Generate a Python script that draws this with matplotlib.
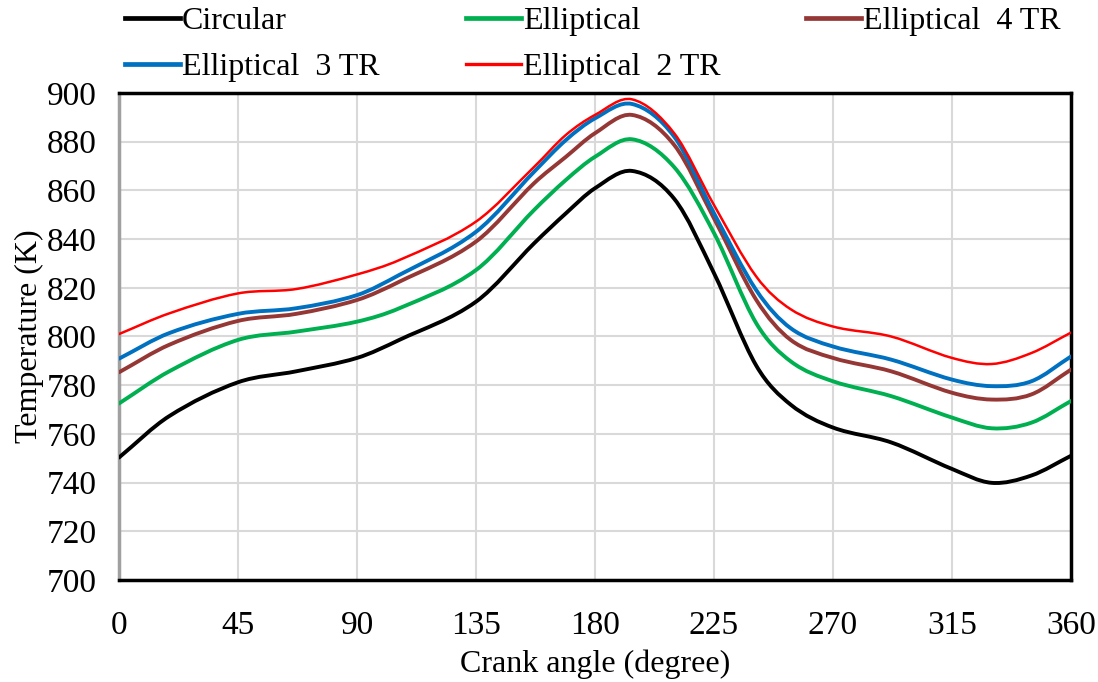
import numpy as np
import matplotlib
matplotlib.use("Agg")
import matplotlib.pyplot as plt
from matplotlib.path import Path
from matplotlib.patches import PathPatch
from matplotlib.lines import Line2D

plt.rcParams['font.family'] = ['Liberation Serif', 'DejaVu Serif']

# crank angle (degree)
angle = [0, 19, 45, 67, 90, 106, 135, 157, 169, 180, 194, 210, 225, 241, 254, 270, 292, 315, 330, 345, 360]

# temperature (K)
circular = [750.3, 767.3, 781.2, 785.7, 791.2, 798.6, 814.3, 838.3, 850.6, 860.9, 868, 856.5, 826, 788, 772, 762.6, 756.5, 745.6, 739.9, 742.9, 751]
elliptical = [772.5, 785.7, 798.6, 802, 806.1, 811.6, 827.3, 852, 864.3, 873.8, 881, 869.5, 842.5, 805.4, 789.8, 781.6, 775.5, 766.7, 762.3, 764.6, 773.5]
ellip_4tr = [785.3, 796.6, 806.4, 809.3, 815, 822.5, 839, 863, 873.8, 883.5, 891, 878.6, 848.5, 815, 798.6, 791.2, 785.7, 776.9, 774.1, 776.2, 786.4]
ellip_3tr = [790.9, 801.4, 809.3, 811.6, 817, 825.3, 843, 867.7, 880.7, 889.6, 895.5, 882, 850.6, 819, 803.4, 795.9, 790.5, 782.3, 779.6, 781.6, 791.8]
ellip_2tr = [801, 809.5, 817.7, 819.5, 825.5, 831.4, 847.2, 869.7, 882.8, 891, 897.4, 883.4, 854, 824.6, 811.2, 804.1, 800, 791.2, 788.7, 793.2, 801.6]

labels = ["Circular", "Elliptical", "Elliptical  4 TR", "Elliptical  3 TR", "Elliptical  2 TR"]
colors = ["#000000", "#00b050", "#953735", "#0070c0", "#ff0000"]
widths = [2.8, 2.8, 2.8, 2.8, 1.8]
series = [circular, elliptical, ellip_4tr, ellip_3tr, ellip_2tr]


def smooth_path(x, y):
    # smoothed line drawn as cubic bezier segments (hermite slopes from neighbours)
    x = np.asarray(x, float)
    y = np.asarray(y, float)
    n = len(x)
    m = np.empty(n)
    m[0] = (y[1] - y[0]) / (x[1] - x[0])
    m[-1] = (y[-1] - y[-2]) / (x[-1] - x[-2])
    m[1:-1] = (y[2:] - y[:-2]) / (x[2:] - x[:-2])
    verts = [(x[0], y[0])]
    codes = [Path.MOVETO]
    for i in range(n - 1):
        h = x[i + 1] - x[i]
        c1 = (x[i] + h / 3, y[i] + m[i] * h / 3)
        c2 = (x[i + 1] - h / 3, y[i + 1] - m[i + 1] * h / 3)
        verts += [c1, c2, (x[i + 1], y[i + 1])]
        codes += [Path.CURVE4] * 3
    return Path(verts, codes)


fig = plt.figure(figsize=(10.98, 6.82), dpi=100)
ax = fig.add_axes([0.1084, 0.1496, 0.867, 0.7140])

handles = {}
for lab, col, lw, ys in zip(labels, colors, widths, series):
    patch = PathPatch(smooth_path(angle, ys), fill=False, edgecolor=col, lw=lw, zorder=3,
                      capstyle='round', joinstyle='round')
    ax.add_patch(patch)
    handles[lab] = Line2D([], [], color=col, lw=lw + 0.6)

ax.set_xlim(0, 360)
ax.set_ylim(700, 900)
ax.set_xticks(np.arange(0, 361, 45))
ax.set_yticks(np.arange(700, 901, 20))
ax.grid(True, color="#d9d9d9", lw=1.5)
ax.set_axisbelow(True)
ax.tick_params(axis='both', length=0, labelsize=24)
ax.tick_params(axis='y', pad=16)
ax.tick_params(axis='x', pad=22)

for side in ['top', 'right', 'bottom']:
    ax.spines[side].set_color('black')
    ax.spines[side].set_linewidth(2.5)
ax.spines['left'].set_color('#a0a0a0')
ax.spines['left'].set_linewidth(2.5)

ax.set_xlabel("Crank angle (degree)", fontsize=23, labelpad=6)
ax.set_ylabel("Temperature (K)", fontsize=23, labelpad=2)

# row-major order for a 3-column legend
order = ["Circular", "Elliptical  3 TR", "Elliptical", "Elliptical  2 TR", "Elliptical  4 TR"]
fig.legend([handles[k] for k in order], order, loc='upper left',
           bbox_to_anchor=(125 / 1098, 1 - 7 / 682), ncol=3, frameon=False,
           fontsize=23, handlelength=1.72, handletextpad=0.06, columnspacing=2.7,
           labelspacing=0.5, borderpad=0, borderaxespad=0)

fig.savefig("out.png", dpi=100)
